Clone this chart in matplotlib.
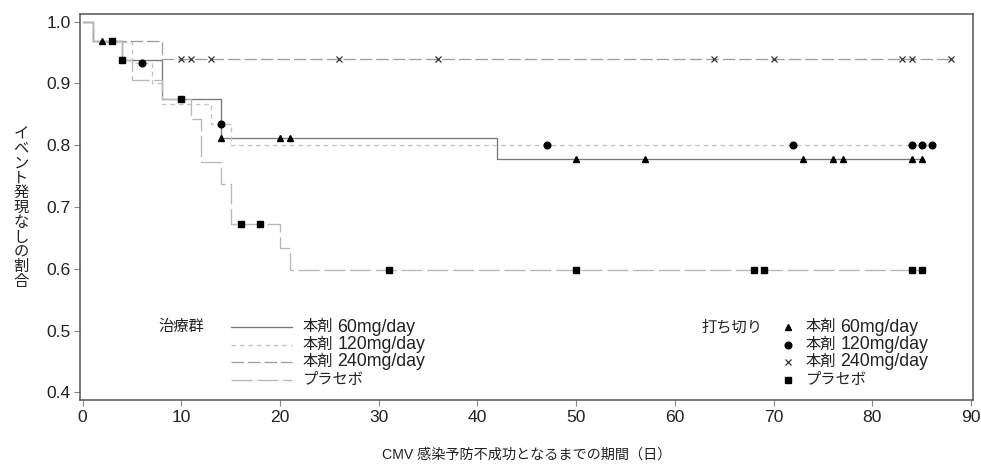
import numpy as np
import matplotlib
matplotlib.use("Agg")
import matplotlib.pyplot as plt
from matplotlib.lines import Line2D

plt.rcParams['font.family'] = ['Liberation Sans', 'Noto Sans CJK JP']

# ==================================================
# Data (Kaplan-Meier steps)
# ==================================================
group_prefix = ["本剤", "本剤", "本剤", "プラセボ"]
group_dose = ["60mg/day", "120mg/day", "240mg/day", ""]

t_60 = [0, 1, 4, 8, 14, 42]
s_60 = [1.0, 0.969, 0.938, 0.875, 0.8125, 0.778]
c_60 = [2, 14, 20, 21, 50, 57, 73, 76, 77, 84, 85]

t_120 = [0, 1, 5, 7, 8, 13, 15]
s_120 = [1.0, 0.967, 0.933, 0.900, 0.867, 0.835, 0.800]
c_120 = [6, 14, 47, 72, 84, 85, 86]

t_240 = [0, 1, 8]
s_240 = [1.0, 0.969, 0.940]
c_240 = [10, 11, 13, 26, 36, 64, 70, 83, 84, 88]

t_pla = [0, 1, 4, 5, 8, 11, 12, 14, 15, 20, 21]
s_pla = [1.0, 0.969, 0.938, 0.906, 0.875, 0.842, 0.773, 0.738, 0.672, 0.634, 0.598]
c_pla = [3, 4, 10, 16, 18, 31, 50, 68, 69, 84, 85]

x_ticks = list(range(0, 91, 10))
y_ticks = [0.4, 0.5, 0.6, 0.7, 0.8, 0.9, 1.0]

# ==================================================
# Styles
# ==================================================
styles = [
    dict(color="#7a7a7a", ls="-", marker="^", ms=4.6),
    dict(color="#c4c4c4", ls=(0, (3.6, 2.8)), marker="o", ms=4.8),
    dict(color="#a0a0a0", ls=(0, (9.5, 3.0)), marker="x", ms=4.4),
    dict(color="#b8b8b8", ls=(0, (16, 3.5)), marker="s", ms=4.2),
]
series = [(t_60, s_60, c_60), (t_120, s_120, c_120),
          (t_240, s_240, c_240), (t_pla, s_pla, c_pla)]

TXT = "#222222"
CJK_SIZE = 11
LAT_SIZE = 12.8

W, H = 981, 466
fig = plt.figure(figsize=(W / 100, H / 100), dpi=100)
ax = fig.add_axes([80 / W, 1 - 400 / H, (973 - 80) / W, (400 - 14) / H])


def surv_at(t, s, x):
    idx = np.searchsorted(t, x, side="right") - 1
    return np.asarray(s)[idx]


def fx(px):
    return px / W


def fy(py):
    return 1 - py / H


for (t, s, c), st in zip(series, styles):
    end = max(c)
    ax.step(list(t) + [end], list(s) + [s[-1]], where="post",
            color=st["color"], ls=st["ls"], lw=0.95, zorder=2)
    cy = surv_at(t, s, c)
    if st["marker"] == "x":
        ax.plot(c, cy, ls="none", marker="x", ms=st["ms"], mew=0.9,
                color="#333333", zorder=3)
    else:
        ax.plot(c, cy, ls="none", marker=st["marker"], ms=st["ms"],
                color="black", mec="black", zorder=3)

ax.set_xlim(-0.27, 90.2)
ax.set_ylim(0.3876, 1.0125)
ax.set_xticks(x_ticks)
ax.set_yticks(y_ticks)
ax.set_yticklabels([f"{v:.1f}" for v in y_ticks])
ax.tick_params(direction="out", length=4, width=0.8, color="#888888",
               labelsize=12.6, pad=2.5, labelcolor=TXT)
ax.tick_params(axis="x", pad=3.5)
for sp in ax.spines.values():
    sp.set_color("#555555")
    sp.set_linewidth(1.1)

# ==================================================
# Axis titles
# ==================================================
fig.text(fx(527), fy(455), "CMV 感染予防不成功となるまでの期間（日）",
         ha="center", va="center", fontsize=10.2, color=TXT)
ylab = "イベント発現なしの割合"
fig.text(fx(21), fy(208), "\n".join(ylab), ha="center", va="center",
         fontsize=11, linespacing=1.07, color=TXT)

# ==================================================
# Legends drawn as text + lines
# ==================================================
rows_y = [327, 344.5, 362, 379.5]


def legend_label(x0, yy, prefix, dose):
    fig.text(fx(x0), fy(yy), prefix, ha="left", va="center",
             fontsize=CJK_SIZE, color=TXT)
    if dose:
        fig.text(fx(x0 + 34.5), fy(yy), dose, ha="left", va="center",
                 fontsize=LAT_SIZE, color=TXT)


fig.text(fx(158), fy(rows_y[0]), "治療群", ha="left", va="center",
         fontsize=CJK_SIZE, color=TXT)
for yy, pre, dose, st in zip(rows_y, group_prefix, group_dose, styles):
    fig.add_artist(Line2D([fx(231), fx(292)], [fy(yy), fy(yy)],
                          transform=fig.transFigure, color=st["color"],
                          ls=st["ls"], lw=0.95))
    legend_label(303, yy, pre, dose)

fig.text(fx(701), fy(rows_y[0]), "打ち切り", ha="left", va="center",
         fontsize=CJK_SIZE, color=TXT)
for yy, pre, dose, st in zip(rows_y, group_prefix, group_dose, styles):
    if st["marker"] == "x":
        fig.add_artist(Line2D([fx(788)], [fy(yy)], transform=fig.transFigure,
                              ls="none", marker="x", ms=st["ms"], mew=0.9,
                              color="#333333"))
    else:
        fig.add_artist(Line2D([fx(788)], [fy(yy)], transform=fig.transFigure,
                              ls="none", marker=st["marker"], ms=st["ms"],
                              color="black"))
    legend_label(806, yy, pre, dose)

fig.savefig("out.png", dpi=100)
